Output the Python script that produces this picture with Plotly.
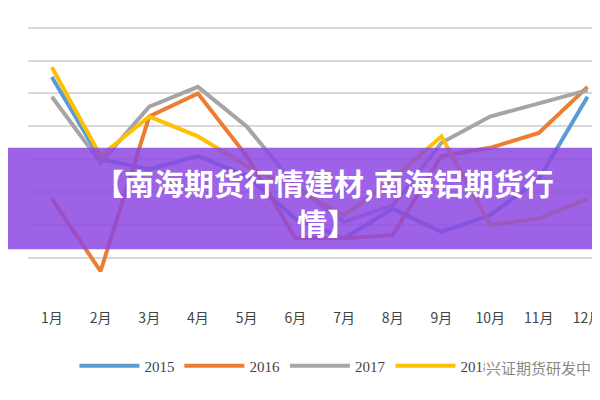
import plotly.graph_objects as go

months = ["1月", "2月", "3月", "4月", "5月", "6月", "7月", "8月", "9月", "10月", "11月", "12月"]
y2015 = [6.5, 4.0, 3.7, 4.1, 3.5, 2.2, 1.6, 2.5, 1.8, 2.3, 3.4, 5.9]
y2016 = [2.8, 0.6, 5.3, 6.0, 4.1, 1.6, 1.6, 1.7, 4.1, 4.35, 4.8, 6.2]
y2017 = [5.9, 3.9, 5.6, 6.2, 5.0, 3.2, 2.1, 2.6, 4.5, 5.3, 5.7, 6.1]
y2018 = [6.8, 4.1, 5.3, 4.7, 3.8, 3.1, 2.3, 3.4, 4.7, 2.0, 2.2, 2.8]

series = [("2015", y2015, "#5b9bd5"), ("2016", y2016, "#ed7d31"),
          ("2017", y2017, "#a5a5a5"), ("2018", y2018, "#ffc000")]

x = list(range(len(months)))
fig = go.Figure()
for name, vals, col in series:
    fig.add_trace(go.Scatter(x=x, y=vals, name=name, mode="lines",
                             line=dict(color=col, width=4)))

# purple banner across the chart, placed in axis units
fig.add_shape(type="rect", xref="paper", yref="y", x0=-0.05, x1=1.05,
              y0=1.27, y1=4.35,
              fillcolor="rgba(140,70,225,0.85)", line_width=0, layer="above")
title_font = dict(family="Noto Sans CJK SC", size=30, color="white")
fig.add_annotation(xref="paper", yref="y", x=0.51, y=3.32,
                   text="<b>【南海期货行情建材,南海铝期货行</b>", showarrow=False,
                   font=title_font)
fig.add_annotation(xref="paper", yref="y", x=0.515, y=2.11,
                   text="<b>情】</b>", showarrow=False, font=title_font)
fig.add_annotation(xref="paper", yref="paper", x=1.0, y=-0.335, xanchor="right",
                   text="兴证期货研发中心", showarrow=False, bgcolor="white",
                   font=dict(family="Noto Sans CJK SC", size=15, color="#888"))

fig.update_layout(
    width=600, height=400, plot_bgcolor="white", paper_bgcolor="white",
    margin=dict(l=20, r=0, t=18, b=117),
    xaxis=dict(range=[-0.49, 11.42], tickvals=x, ticktext=months, showgrid=False,
               ticks="outside", ticklen=14, tickcolor="white",
               tickfont=dict(family="Noto Sans CJK SC", size=14, color="#444"),
               zeroline=False, automargin=False),
    yaxis=dict(range=[0, 8.05], dtick=1, showticklabels=False, gridcolor="#d9d9d9",
               gridwidth=2, zeroline=False, automargin=False),
    legend=dict(orientation="h", x=0.08, yref="container", y=0.105, yanchor="middle",
                font=dict(family="Liberation Serif", size=15, color="#444"),
                itemwidth=60),
)
fig.write_html("out.html")
